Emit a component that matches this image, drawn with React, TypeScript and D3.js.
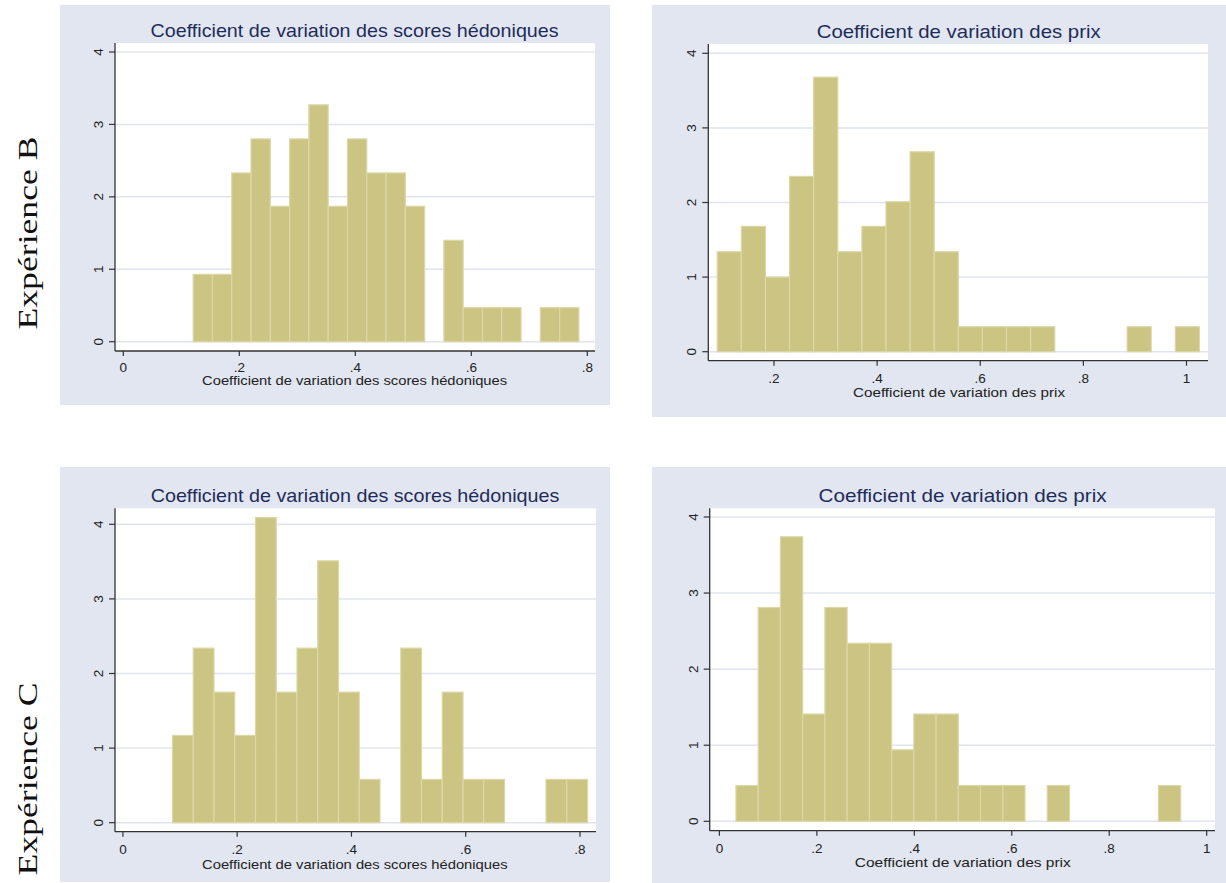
import { useRef, useEffect } from 'react'
import * as d3 from 'd3'

// densities (20 bins each)
const densB_hedo = [0.93, 0.93, 2.33, 2.8, 1.87, 2.8, 3.27, 1.87, 2.8, 2.33, 2.33, 1.87, 0, 1.4, 0.47, 0.47, 0.47, 0, 0.47, 0.47]
const densB_prix = [1.34, 1.68, 1.0, 2.35, 3.68, 1.34, 1.68, 2.01, 2.68, 1.34, 0.335, 0.335, 0.335, 0.335, 0, 0, 0, 0.335, 0, 0.335]
const densC_hedo = [1.17, 2.34, 1.75, 1.17, 4.09, 1.75, 2.34, 3.51, 1.75, 0.58, 0, 2.34, 0.58, 1.75, 0.58, 0.58, 0, 0, 0.58, 0.58]
const densC_prix = [0.47, 2.81, 3.74, 1.41, 2.81, 2.34, 2.34, 0.94, 1.41, 1.41, 0.47, 0.47, 0.47, 0, 0.47, 0, 0, 0, 0, 0.47]

// bin start / width for each histogram
const binsB_hedo = { start: 0.1205, width: 0.03325 }
const binsB_prix = { start: 0.0899, width: 0.04676 }
const binsC_hedo = { start: 0.0868, width: 0.03632 }
const binsC_prix = { start: 0.034, width: 0.04563 }

const yTicks = [0, 1, 2, 3, 4]
const xTicksHedo = [0, 0.2, 0.4, 0.6, 0.8]
const xTicksPrixB = [0.2, 0.4, 0.6, 0.8, 1]
const xTicksPrixC = [0, 0.2, 0.4, 0.6, 0.8, 1]

const titleHedo = 'Coefficient de variation des scores hédoniques'
const titlePrix = 'Coefficient de variation des prix'
const rowLabels = ['Expérience B', 'Expérience C']

const fmt = (v: number) => (v === 0 ? '0' : v >= 1 ? String(v) : String(v).replace(/^0/, ''))

const BG = '#e1e6f0'
const GRID = '#dfe4ee'
const FILL = '#cbc483'
const EDGE = '#dcd8a6'
const TITLE = '#1f2c5a'
const SANS = "'Liberation Sans', Arial, sans-serif"

const panels = [
  {
    dens: densB_hedo, bins: binsB_hedo, xTicks: xTicksHedo, title: titleHedo,
    bg: { x: 60, y: 5, w: 550, h: 400 },
    plot: { left: 115, right: 595, top: 43, bottom: 351 },
    xDom: [0, 0.8], xRange: [123.3, 587.3], yRange: [341.7, 52],
    titleY: 37, titleX: 354.6, titleW: 408, xtY: 385, xtX: 354.6, xtW: 305, tickY: 371.5,
  },
  {
    dens: densB_prix, bins: binsB_prix, xTicks: xTicksPrixB, title: titlePrix,
    bg: { x: 652, y: 5, w: 574, h: 412 },
    plot: { left: 708.3, right: 1208, top: 44, bottom: 360.7 },
    xDom: [0.2, 1], xRange: [774, 1186.5], yRange: [351.7, 53.3],
    titleY: 38, titleX: 958.7, titleW: 284, xtY: 397, xtX: 959, xtW: 212, tickY: 382.5,
  },
  {
    dens: densC_hedo, bins: binsC_hedo, xTicks: xTicksHedo, title: titleHedo,
    bg: { x: 60, y: 467, w: 550, h: 415 },
    plot: { left: 115, right: 596, top: 508.3, bottom: 831.7 },
    xDom: [0, 0.8], xRange: [122.9, 580], yRange: [822.7, 524.3],
    titleY: 501.7, titleX: 355, titleW: 408.6, xtY: 868.5, xtX: 354.8, xtW: 305.5, tickY: 854,
  },
  {
    dens: densC_prix, bins: binsC_prix, xTicks: xTicksPrixC, title: titlePrix,
    bg: { x: 652, y: 467, w: 574, h: 416 },
    plot: { left: 709.7, right: 1215, top: 508.3, bottom: 830.7 },
    xDom: [0, 1], xRange: [719.4, 1206.7], yRange: [821.3, 517],
    titleY: 501.7, titleX: 962.6, titleW: 288, xtY: 867, xtX: 962.8, xtW: 216, tickY: 852.5,
  },
]

export default function App() {
  const svgRef = useRef<SVGSVGElement>(null)

  useEffect(() => {
    if (!svgRef.current) return
    const svg = d3.select(svgRef.current)
    svg.selectAll('*').remove()

    for (const p of panels) {
      const g = svg.append('g')
      const x = d3.scaleLinear().domain(p.xDom).range(p.xRange)
      const y = d3.scaleLinear().domain([0, 4]).range(p.yRange)

      g.append('rect')
        .attr('x', p.bg.x).attr('y', p.bg.y).attr('width', p.bg.w).attr('height', p.bg.h)
        .attr('fill', BG)

      g.append('rect')
        .attr('x', p.plot.left).attr('y', p.plot.top)
        .attr('width', p.plot.right - p.plot.left).attr('height', p.plot.bottom - p.plot.top)
        .attr('fill', '#fff')

      // gridlines
      for (const t of yTicks) {
        g.append('line')
          .attr('x1', p.plot.left).attr('x2', p.plot.right)
          .attr('y1', y(t)).attr('y2', y(t))
          .attr('stroke', GRID).attr('stroke-width', 1.5)
      }

      // bars
      const bars = p.dens.map((d, i) => ({
        x0: p.bins.start + i * p.bins.width,
        x1: p.bins.start + (i + 1) * p.bins.width,
        d,
      })).filter((b) => b.d > 0)

      g.selectAll('.bar')
        .data(bars)
        .join('rect')
        .attr('x', (b) => x(b.x0))
        .attr('y', (b) => y(b.d))
        .attr('width', (b) => x(b.x1) - x(b.x0))
        .attr('height', (b) => y(0) - y(b.d))
        .attr('fill', FILL)
        .attr('stroke', EDGE)
        .attr('stroke-width', 1.2)

      // axes
      g.append('line')
        .attr('x1', p.plot.left).attr('x2', p.plot.right)
        .attr('y1', p.plot.bottom).attr('y2', p.plot.bottom)
        .attr('stroke', '#333').attr('stroke-width', 1.3)
      g.append('line')
        .attr('x1', p.plot.left).attr('x2', p.plot.left)
        .attr('y1', p.plot.top).attr('y2', p.plot.bottom)
        .attr('stroke', '#333').attr('stroke-width', 1.3)

      for (const t of yTicks) {
        g.append('line')
          .attr('x1', p.plot.left - 6).attr('x2', p.plot.left)
          .attr('y1', y(t)).attr('y2', y(t))
          .attr('stroke', '#333').attr('stroke-width', 1.2)
        g.append('text')
          .attr('transform', `translate(${p.plot.left - 12},${y(t)}) rotate(-90)`)
          .attr('text-anchor', 'middle')
          .attr('font-family', SANS).attr('font-size', 13.5).attr('fill', '#222')
          .text(String(t))
      }

      for (const t of p.xTicks) {
        g.append('line')
          .attr('x1', x(t)).attr('x2', x(t))
          .attr('y1', p.plot.bottom).attr('y2', p.plot.bottom + 5)
          .attr('stroke', '#333').attr('stroke-width', 1.2)
        g.append('text')
          .attr('x', x(t)).attr('y', p.tickY)
          .attr('text-anchor', 'middle')
          .attr('font-family', SANS).attr('font-size', 13.5).attr('fill', '#222')
          .text(fmt(t))
      }

      // titles
      g.append('text')
        .attr('x', p.titleX).attr('y', p.titleY)
        .attr('text-anchor', 'middle')
        .attr('font-family', SANS).attr('font-size', 18.5).attr('fill', TITLE)
        .attr('textLength', p.titleW).attr('lengthAdjust', 'spacingAndGlyphs')
        .text(p.title)

      g.append('text')
        .attr('x', p.xtX).attr('y', p.xtY)
        .attr('text-anchor', 'middle')
        .attr('font-family', SANS).attr('font-size', 13).attr('fill', '#222')
        .attr('textLength', p.xtW).attr('lengthAdjust', 'spacingAndGlyphs')
        .text(p.title)
    }

    // row labels
    const rowY = [233, 779]
    rowLabels.forEach((lab, i) => {
      svg.append('text')
        .attr('transform', `translate(37,${rowY[i]}) rotate(-90)`)
        .attr('text-anchor', 'middle')
        .attr('font-family', "'Liberation Serif', 'Times New Roman', serif")
        .attr('font-size', 27).attr('fill', '#111')
        .attr('textLength', 193).attr('lengthAdjust', 'spacingAndGlyphs')
        .text(lab)
    })
  }, [])

  return (
    <svg
      ref={svgRef}
      width={1226}
      height={883}
      style={{ position: 'absolute', left: 0, top: 0, background: '#fff' }}
    />
  )
}
